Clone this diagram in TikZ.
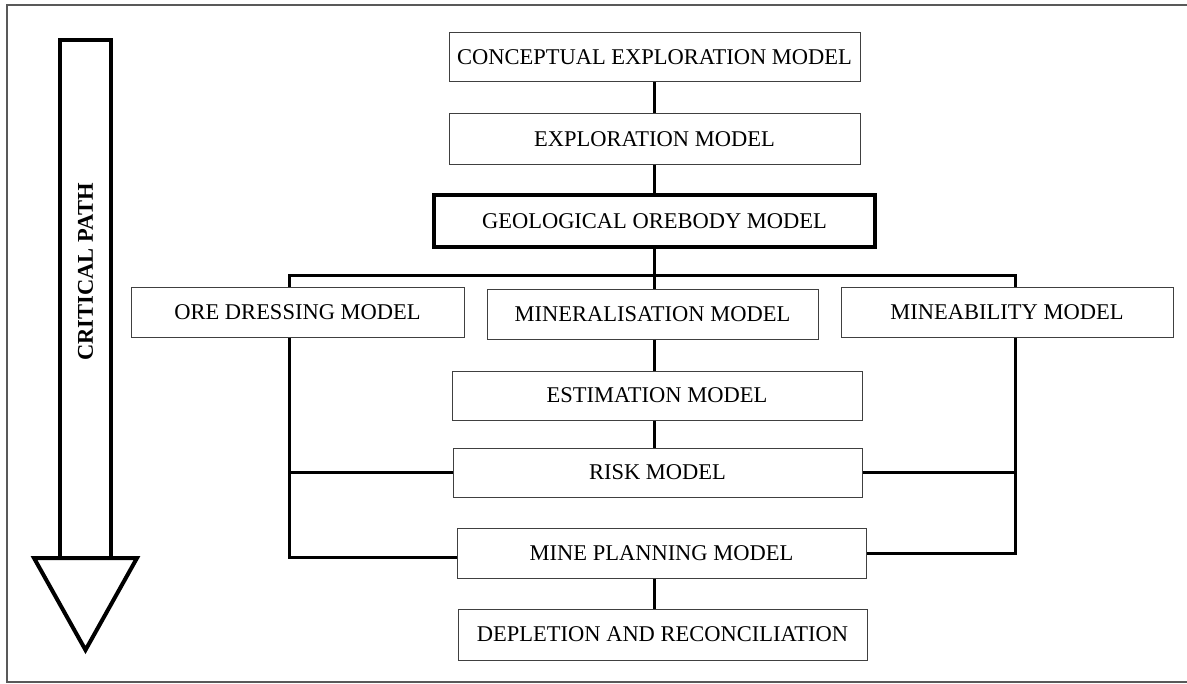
\documentclass[tikz,border=0pt]{standalone}
\usepackage{fontspec}
\setmainfont{Liberation Serif}
\begin{document}
\begin{tikzpicture}[x=0.5pt,y=-0.5pt,
  box/.style={draw=black!75, line width=0.5pt, fill=white, inner sep=0pt,
    font=\fontsize{11.25}{13}\selectfont},
  thickbox/.style={box, draw=black, line width=1.8pt},
  conn/.style={line width=1.5pt, black, line join=miter},
  bigarrow/.style={line width=2pt, black, line join=miter}]
\useasboundingbox (0,0) rectangle (1187,684);
% frame (right side falls outside the picture)
\draw[black!65, line width=0.6pt] (1187,5) -- (7,5) -- (7,682) -- (1187,682);
% critical path arrow
\draw[bigarrow] (60,558) -- (60,40) -- (111,40) -- (111,558);
\draw[bigarrow, fill=white] (34,558) -- (137,558) -- (85.5,650) -- cycle;
\node[rotate=90, font=\fontsize{11.25}{13}\selectfont\bfseries] (cp) at (85.5,272) {CRITICAL PATH};
% boxes
\node[box, minimum width=205.5pt, minimum height=24.5pt] (conc) at (654.5,57.5) {CONCEPTUAL EXPLORATION MODEL};
\node[box, minimum width=205.5pt, minimum height=25.5pt] (expl) at (654.5,139.5) {EXPLORATION MODEL};
\node[thickbox, minimum width=220.5pt, minimum height=26pt] (geol) at (654.5,221) {GEOLOGICAL OREBODY MODEL};
\node[box, minimum width=166.5pt, minimum height=25pt] (ore) at (297.5,312) {ORE DRESSING MODEL};
\node[box, minimum width=165.5pt, minimum height=25pt] (minz) at (652.5,314) {MINERALISATION MODEL};
\node[box, minimum width=166pt, minimum height=25pt] (mab) at (1007,312) {MINEABILITY MODEL};
\node[box, minimum width=205pt, minimum height=24.5pt] (est) at (657,395.5) {ESTIMATION MODEL};
\node[box, minimum width=204.5pt, minimum height=24.5pt] (risk) at (657.5,472.5) {RISK MODEL};
\node[box, minimum width=204.5pt, minimum height=25pt] (mp) at (661.5,553) {MINE PLANNING MODEL};
\node[box, minimum width=204.5pt, minimum height=25.5pt] (dep) at (662.5,634.5) {DEPLETION AND RECONCILIATION};
% helper coordinates
\coordinate (busL) at (289,275);
\coordinate (busC) at (654,275);
\coordinate (busR) at (1015,275);
\coordinate (lowL) at (289,557);
\coordinate (lowR) at (1015,553);
% connectors
\draw[conn] (conc.south -| busC) -- (expl.north -| busC);
\draw[conn] (expl.south -| busC) -- (geol.north -| busC);
\draw[conn] (geol.south -| busC) -- (minz.north -| busC);
\draw[conn] (ore.north -| busL) |- (busR) -- (mab.north -| busR);
\draw[conn] (minz.south -| busC) -- (est.north -| busC);
\draw[conn] (est.south -| busC) -- (risk.north -| busC);
\draw[conn] (mp.south -| busC) -- (dep.north -| busC);
\draw[conn] (ore.south -| busL) -- (lowL) -- (mp.west |- lowL);
\draw[conn] (mab.south -| busR) -- (lowR) -- (mp.east |- lowR);
\draw[conn] (risk.west) -- (risk.west -| busL);
\draw[conn] (risk.east) -- (risk.east -| busR);
\end{tikzpicture}
\end{document}
